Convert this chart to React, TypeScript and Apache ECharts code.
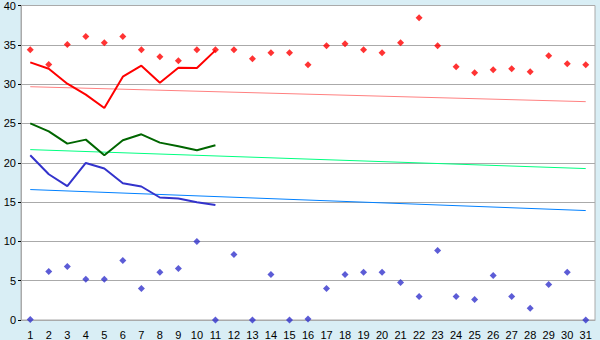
import React, { useEffect, useRef } from "react";
import * as echarts from "echarts";

const days = Array.from({ length: 31 }, (_, i) => String(i + 1));

const redPoints = [34.37, 32.5, 35.05, 36.06, 35.26, 36.06, 34.37, 33.48, 32.97, 34.37, 34.37, 34.37, 33.23, 33.99, 33.99, 32.47, 34.88, 35.13, 34.37, 33.99, 35.26, 38.43, 34.88, 32.2, 31.45, 31.83, 31.96, 31.58, 33.6, 32.6, 32.47];
const bluePoints = [0.05, 6.18, 6.82, 5.17, 5.17, 7.58, 4.02, 6.06, 6.56, 10.0, 0.0, 8.34, 0.0, 5.8, 0.0, 0.13, 4.02, 5.8, 6.06, 6.06, 4.78, 3.0, 8.85, 3.0, 2.62, 5.67, 3.0, 1.48, 4.51, 6.06, 0.0];

const redLine = [32.76, 31.96, 30.06, 28.66, 26.96, 30.94, 32.34, 30.18, 32.08, 32.04, 34.29];
const greenLine = [25.0, 24.0, 22.43, 22.94, 20.95, 22.86, 23.62, 22.56, 22.1, 21.59, 22.22];
const blueLine = [20.95, 18.54, 17.02, 19.97, 19.26, 17.4, 16.98, 15.58, 15.45, 14.98, 14.64];

const redTrend = [29.67, 27.77];
const greenTrend = [21.67, 19.26];
const blueTrend = [16.59, 13.92];

const yTicks = ["0", "5", "10", "15", "20", "25", "30", "35", "40"];

export default function App() {
  const ref = useRef<HTMLDivElement>(null);
  useEffect(() => {
    const chart = echarts.init(ref.current!, null, { renderer: "svg" });
    const trend = (vals: number[], color: string) => ({
      type: "line",
      data: [[days[0], vals[0]], [days[30], vals[1]]],
      symbol: "none",
      lineStyle: { color, width: 1 },
      z: 1,
    });
    const line = (vals: number[], color: string) => ({
      type: "line",
      data: vals,
      symbol: "none",
      lineStyle: { color, width: 2 },
      z: 3,
    });
    const scatter = (vals: number[], color: string) => ({
      type: "scatter",
      data: vals,
      symbol: "diamond",
      symbolSize: 7,
      itemStyle: { color },
      z: 4,
    });
    chart.setOption({
      animation: false,
      backgroundColor: "#D9EEF5",
      grid: { left: 21, right: 5, top: 5, bottom: 20, show: true, backgroundColor: "#FFFFFF", borderColor: "#AAAAAA", borderWidth: 1 },
      xAxis: {
        type: "category",
        data: days,
        boundaryGap: true,
        axisLine: { lineStyle: { color: "#AAAAAA" } },
        axisTick: { alignWithLabel: true, length: 6, lineStyle: { color: "#000" } },
        axisLabel: { color: "#000", fontFamily: "Liberation Sans", fontSize: 11, margin: 9 },
        splitLine: { show: false },
      },
      yAxis: {
        type: "value",
        min: 0,
        max: 40,
        interval: 5,
        axisLine: { show: true, lineStyle: { color: "#AAAAAA" } },
        axisTick: { show: true, length: 3, lineStyle: { color: "#000" } },
        axisLabel: { color: "#000", fontFamily: "Liberation Sans", fontSize: 11, margin: 5, formatter: (v: number) => yTicks[v / 5] },
        splitLine: { lineStyle: { color: "#AAAAAA" } },
      },
      series: [
        trend(redTrend, "#FF8080"),
        trend(greenTrend, "#00FF80"),
        trend(blueTrend, "#0080FF"),
        line(redLine, "#FF0000"),
        line(greenLine, "#006600"),
        line(blueLine, "#3333CC"),
        scatter(redPoints, "#FF0000"),
        scatter(bluePoints, "#3333CC"),
      ],
    });
    return () => chart.dispose();
  }, []);
  return <div ref={ref} style={{ position: "absolute", left: 0, top: 0, width: 600, height: 340 }} />;
}
